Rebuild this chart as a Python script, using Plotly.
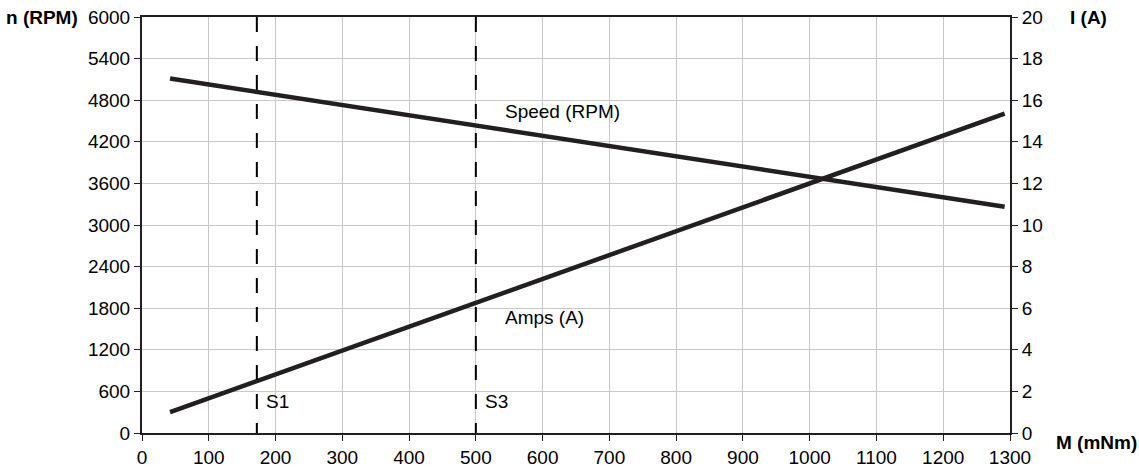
import plotly.graph_objects as go

torque = [42, 1292]
speed_rpm = [5112, 3264]
amps = [1.0, 15.35]
s_lines = [172, 500]
s_labels = ["S1", "S3"]
x_ticks = list(range(0, 1301, 100))
y_ticks = list(range(0, 6001, 600))
y2_ticks = list(range(0, 21, 2))

FONT = "Liberation Sans, Arial, sans-serif"
INK = "#231f20"
FS = 19

fig = go.Figure()
fig.add_trace(go.Scatter(x=torque, y=speed_rpm, mode="lines",
                         line=dict(color=INK, width=4.5), showlegend=False))
fig.add_trace(go.Scatter(x=torque, y=amps, mode="lines", yaxis="y2",
                         line=dict(color=INK, width=4.5), showlegend=False))

for xv, lab in zip(s_lines, s_labels):
    fig.add_shape(type="line", x0=xv, x1=xv, y0=6000, y1=0, xref="x", yref="y",
                  line=dict(color="#000", width=2, dash="15px,14px"))
    fig.add_annotation(x=xv, y=450, xref="x", yref="y", text=lab, showarrow=False,
                       xanchor="left", yanchor="middle", xshift=7,
                       font=dict(family=FONT, size=FS, color="#000"))

fig.add_annotation(x=540, y=4640, xref="x", yref="y", text="Speed (RPM)", showarrow=False,
                   xanchor="left", yanchor="middle", font=dict(family=FONT, size=FS, color="#000"))
fig.add_annotation(x=540, y=1660, xref="x", yref="y", text="Amps (A)", showarrow=False,
                   xanchor="left", yanchor="middle", font=dict(family=FONT, size=FS, color="#000"))

fig.add_annotation(x=0, y=1, xref="paper", yref="paper", text="<b>n (RPM)</b>", showarrow=False,
                   xanchor="right", yanchor="middle", xshift=-62,
                   font=dict(family=FONT, size=FS, color="#000"))
fig.add_annotation(x=1, y=1, xref="paper", yref="paper", text="<b>I (A)</b>", showarrow=False,
                   xanchor="left", yanchor="middle", xshift=58,
                   font=dict(family=FONT, size=FS, color="#000"))
fig.add_annotation(x=1, y=0, xref="paper", yref="paper", text="<b>M (mNm)</b>", showarrow=False,
                   xanchor="left", yanchor="middle", xshift=44, yshift=-9,
                   font=dict(family=FONT, size=FS, color="#000"))

axis_common = dict(showline=True, linecolor=INK, linewidth=2, ticks="outside",
                   ticklen=6, tickcolor=INK, tickwidth=1,
                   tickfont=dict(family=FONT, size=FS, color="#000"),
                   zeroline=False, automargin=False)

fig.update_layout(
    width=1139, height=468,
    margin=dict(l=142, r=129, t=17, b=35),
    paper_bgcolor="white", plot_bgcolor="white",
    xaxis=dict(range=[0, 1300], tickvals=x_ticks, showgrid=True, gridcolor="#c8c8c8",
               gridwidth=1, mirror=True, **axis_common),
    yaxis=dict(range=[0, 6000], tickvals=y_ticks, showgrid=True, gridcolor="#c8c8c8",
               gridwidth=1, **axis_common),
    yaxis2=dict(range=[0, 20], tickvals=y2_ticks, overlaying="y", side="right",
                showgrid=False, **axis_common),
)

fig.write_html("out.html", config={"displayModeBar": False},
               post_script="document.body.style.margin='0';document.body.style.overflow='hidden';")
